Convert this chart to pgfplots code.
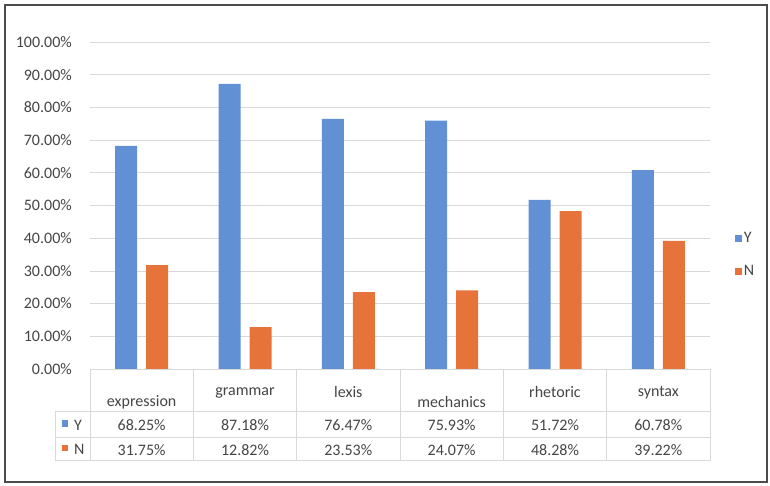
\documentclass[border=0pt]{standalone}
\usepackage{fontspec}
\setmainfont{Carlito}
\usepackage{pgfplots}
\pgfplotsset{compat=1.18}
\definecolor{cY}{HTML}{6290D4}
\definecolor{cN}{HTML}{E6733A}
\definecolor{txt}{HTML}{454545}
\definecolor{gridc}{HTML}{D9D9D9}
\begin{document}
\fontsize{16pt}{19pt}\selectfont
\begin{tikzpicture}[x=1pt,y=1pt]
\path[use as bounding box] (0,0) rectangle (770,485);
\draw[color=black!70, line width=1.5pt] (5,3) rectangle (767,480);
\begin{axis}[at={(90pt,116pt)}, anchor=south west, scale only axis,
  width=620pt, height=327pt,
  xmin=-0.5, xmax=5.5, ymin=0, ymax=100, clip=false,
  ybar, bar width=22pt,
  axis line style={draw=none},
  xtick=\empty,
  ytick={0,10,...,100},
  yticklabels={0.00\%,10.00\%,20.00\%,30.00\%,40.00\%,50.00\%,60.00\%,70.00\%,80.00\%,90.00\%,100.00\%},
  yticklabel style={text=txt, inner sep=0pt, anchor=east, xshift=-18pt, font=\fontsize{16pt}{19pt}\selectfont},
  ymajorgrids, major grid style={gridc, line width=0.8pt}, major tick length=0pt,
  legend style={at={(1.035,0.43)}, anchor=north west, draw=none, fill=none,
    font=\fontsize{16pt}{19pt}\selectfont, text=txt, row sep=16pt},
  legend cell align=left,
  legend image code/.code={\fill[#1] (0pt,-3.5pt) rectangle (7pt,3.5pt);},
]
\addplot[fill=cY, draw=none, bar shift=-15.5pt] coordinates {(0,68.25) (1,87.18) (2,76.47) (3,75.93) (4,51.72) (5,60.78)};
\addplot[fill=cN, draw=none, bar shift=15.5pt] coordinates {(0,31.75) (1,12.82) (2,23.53) (3,24.07) (4,48.28) (5,39.22)};
\legend{Y,N}
% data table
\draw[gridc, line width=0.8pt] (-0.5,0) -- (5.5,0);
\pgfplotsinvokeforeach{-0.5,0.5,1.5,2.5,3.5,4.5,5.5}{\draw[gridc, line width=0.8pt] (#1,0) -- (#1,-28.1);}
\pgfplotsinvokeforeach{-13.1,-20.8,-28.1}{\draw[gridc, line width=0.8pt] (-0.839,#1) -- (5.5,#1);}
\draw[gridc, line width=0.8pt] (-0.839,-13.1) -- (-0.839,-28.1);
\begin{scope}[every node/.style={text=txt, font=\fontsize{16pt}{19pt}\selectfont, inner sep=0pt}]
\node at (0,-10.1) {expression};
\node at (1,-7.3) {grammar};
\node at (2,-7.1) {lexis};
\node at (3,-10.1) {mechanics};
\node at (4,-7.1) {rhetoric};
\node at (5,-7.3) {syntax};
\node at (0,-17.2) {68.25\%};
\node at (1,-17.2) {87.18\%};
\node at (2,-17.2) {76.47\%};
\node at (3,-17.2) {75.93\%};
\node at (4,-17.2) {51.72\%};
\node at (5,-17.2) {60.78\%};
\node at (0,-24.7) {31.75\%};
\node at (1,-24.7) {12.82\%};
\node at (2,-24.7) {23.53\%};
\node at (3,-24.7) {24.07\%};
\node at (4,-24.7) {48.28\%};
\node at (5,-24.7) {39.22\%};
\node[anchor=west] at (-0.655,-17.2) {Y};
\node[anchor=west] at (-0.655,-24.7) {N};
\end{scope}
\fill[cY] (-0.771,-15.6) rectangle (-0.713,-17.6);
\fill[cN] (-0.771,-23.1) rectangle (-0.713,-25.1);
\end{axis}
\end{tikzpicture}
\end{document}
